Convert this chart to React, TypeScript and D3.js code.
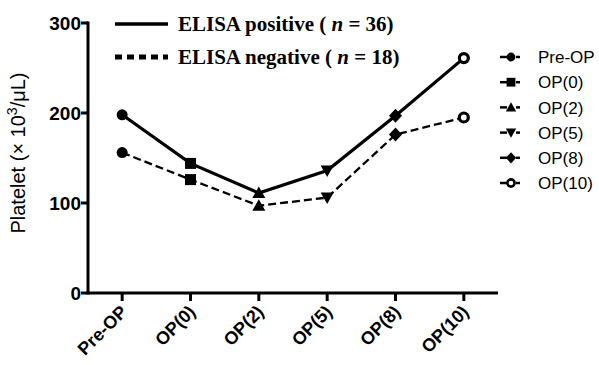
import React from 'react'
import * as d3 from 'd3'

const categories = ['Pre-OP', 'OP(0)', 'OP(2)', 'OP(5)', 'OP(8)', 'OP(10)']
const positiveValues = [198, 144, 111, 136, 197, 261]
const negativeValues = [156, 126, 97, 106, 176, 195]
const yTicks = [0, 100, 200, 300]
const symbols = ['circle', 'square', 'triangle', 'triangleDown', 'diamond', 'ring']

const W = 599
const H = 365
const margin = { top: 23, right: 101, bottom: 72, left: 88 }

function Marker({ kind, x, y }: { kind: string; x: number; y: number }) {
  if (kind === 'circle') return <circle cx={x} cy={y} r={5.5} fill="#000" />
  if (kind === 'ring') return <circle cx={x} cy={y} r={4.5} fill="#fff" stroke="#000" strokeWidth={3.2} />
  if (kind === 'square') return <rect x={x - 5.5} y={y - 5.5} width={11} height={11} fill="#000" />
  if (kind === 'triangle') return <path d={`M${x},${y - 6.5}L${x + 6.5},${y + 5}L${x - 6.5},${y + 5}Z`} fill="#000" />
  if (kind === 'triangleDown') return <path d={`M${x},${y + 6.5}L${x + 6.5},${y - 5}L${x - 6.5},${y - 5}Z`} fill="#000" />
  return <path d={`M${x},${y - 7}L${x + 6.5},${y}L${x},${y + 7}L${x - 6.5},${y}Z`} fill="#000" />
}

export default function App() {
  const x = d3.scalePoint<string>().domain(categories).range([margin.left, W - margin.right]).padding(0.5)
  const y = d3.scaleLinear().domain([0, 300]).range([H - margin.bottom, margin.top])

  const line = d3.line<number>()
    .x((_, i) => x(categories[i]) as number)
    .y((d) => y(d))

  const sans = 'Liberation Sans, Arial, sans-serif'
  const serif = 'Liberation Serif, Times New Roman, serif'
  const legendRows = categories.map((c, i) => ({ c, k: symbols[i], y: 57 + i * 25.2 }))

  return (
    <svg width={W} height={H} style={{ position: 'absolute', left: 0, top: 0, background: '#fff' }}>
      {/* axes */}
      <line x1={margin.left} x2={margin.left} y1={y(300) - 1.5} y2={y(0) + 1.5} stroke="#000" strokeWidth={3} />
      <line x1={margin.left} x2={W - margin.right} y1={y(0)} y2={y(0)} stroke="#000" strokeWidth={3} />
      {yTicks.map((t) => (
        <g key={t}>
          <line x1={margin.left - 7} x2={margin.left} y1={y(t)} y2={y(t)} stroke="#000" strokeWidth={3} />
          <text x={margin.left - 7} y={y(t)} dy="0.36em" textAnchor="end" fontFamily={sans} fontWeight="bold" fontSize={19}>{t}</text>
        </g>
      ))}
      {categories.map((c) => (
        <g key={c}>
          <line x1={x(c)} x2={x(c)} y1={y(0)} y2={y(0) + 8} stroke="#000" strokeWidth={3} />
          <text transform={`translate(${(x(c) as number) + 6},${y(0) + 20}) rotate(-45)`} textAnchor="end" fontFamily={sans} fontWeight="bold" fontSize={18}>{c}</text>
        </g>
      ))}
      <text transform={`translate(25,${153}) rotate(-90)`} textAnchor="middle" fontFamily={sans} fontSize={20}>
        Platelet (× 10<tspan dy={-8} fontSize={14}>3</tspan><tspan dy={8}>/μL)</tspan>
      </text>

      {/* series */}
      <path d={line(negativeValues) || ''} fill="none" stroke="#000" strokeWidth={2.3} strokeDasharray="8,4" />
      <path d={line(positiveValues) || ''} fill="none" stroke="#000" strokeWidth={3.2} />
      {categories.map((c, i) => (
        <g key={c}>
          <Marker kind={symbols[i]} x={x(c) as number} y={y(negativeValues[i])} />
          <Marker kind={symbols[i]} x={x(c) as number} y={y(positiveValues[i])} />
        </g>
      ))}

      {/* top legend */}
      <line x1={115} x2={168} y1={24} y2={24} stroke="#000" strokeWidth={3.5} />
      <line x1={115} x2={168} y1={57} y2={57} stroke="#000" strokeWidth={5} strokeDasharray="7,5" />
      <text x={178} y={24} dy="0.35em" fontFamily={serif} fontWeight="bold" fontSize={21}>
        ELISA positive ( <tspan fontStyle="italic">n</tspan> = 36)
      </text>
      <text x={178} y={57} dy="0.35em" fontFamily={serif} fontWeight="bold" fontSize={21}>
        ELISA negative ( <tspan fontStyle="italic">n</tspan> = 18)
      </text>

      {/* right legend */}
      {legendRows.map((r) => (
        <g key={r.c}>
          <line x1={500} x2={507} y1={r.y} y2={r.y} stroke="#000" strokeWidth={2.5} />
          <line x1={516} x2={520} y1={r.y} y2={r.y} stroke="#000" strokeWidth={2.5} />
          <g transform={`translate(${511},${r.y}) scale(0.8) translate(${-511},${-r.y})`}>
            <Marker kind={r.k} x={511} y={r.y} />
          </g>
          <text x={538} y={r.y} dy="0.36em" fontFamily={sans} fontSize={17}>{r.c}</text>
        </g>
      ))}
    </svg>
  )
}
